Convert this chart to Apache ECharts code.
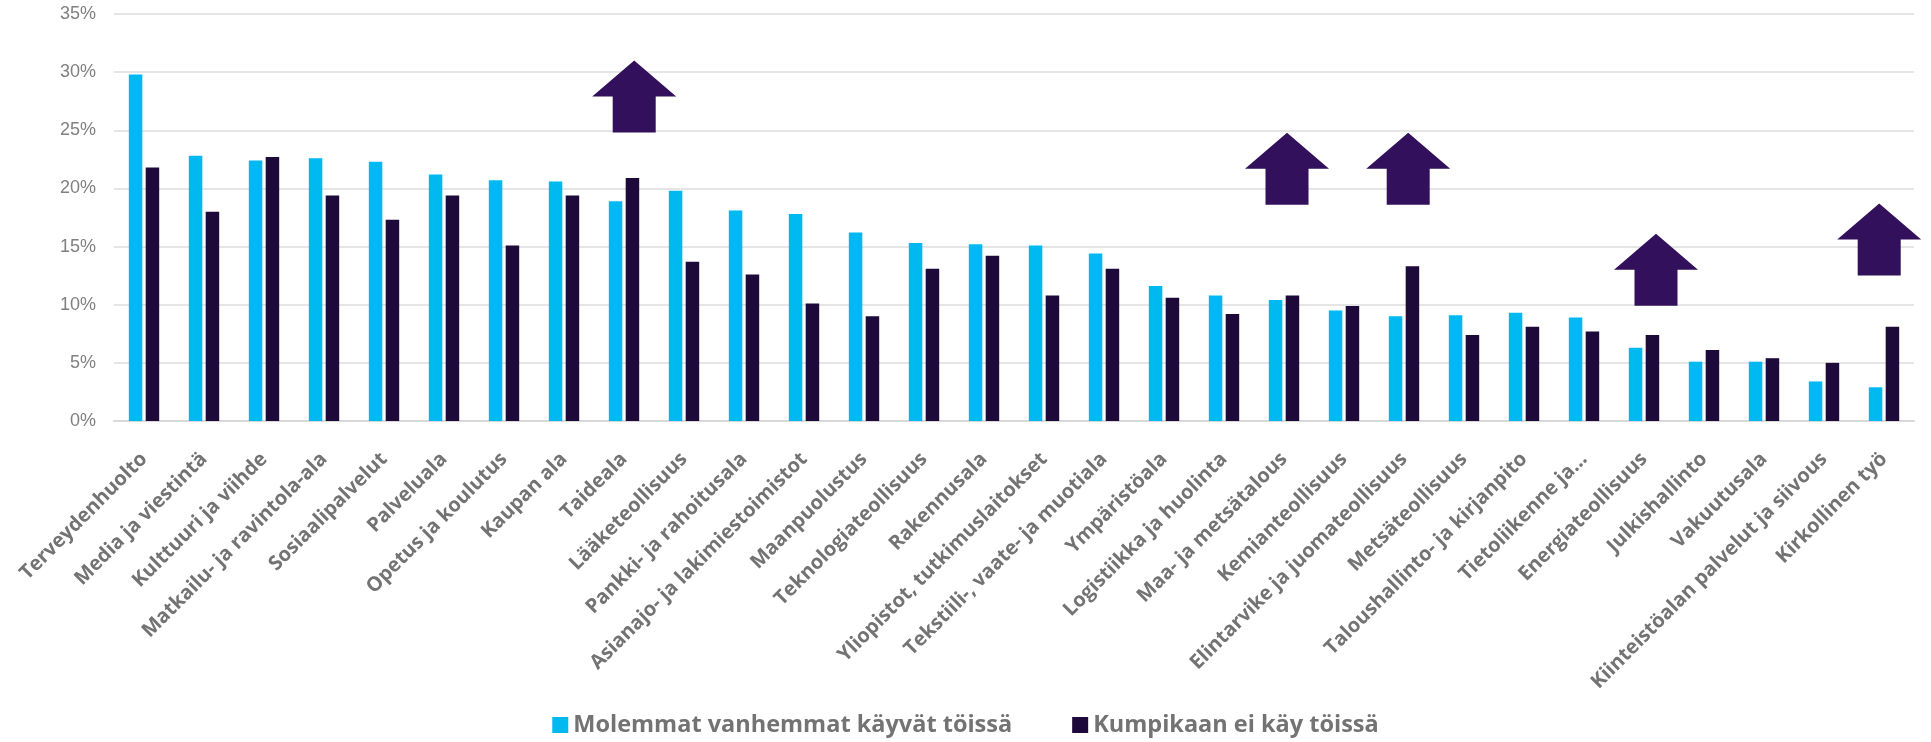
<!DOCTYPE html>
<html>
<head>
<meta charset="utf-8">
<script src="https://cdn.jsdelivr.net/npm/echarts@6/dist/echarts.min.js"></script>
<style>
    html, body { margin: 0; padding: 0; background: #fff; }
    #chart { width: 1931px; height: 742px; }
</style>
</head>
<body>
<div id="chart"></div>
<script>
    // toimialat (x-akseli)
    const categories = [
        "Terveydenhuolto", "Media ja viestintä", "Kulttuuri ja viihde", "Matkailu- ja ravintola-ala",
        "Sosiaalipalvelut", "Palveluala", "Opetus ja koulutus", "Kaupan ala", "Taideala",
        "Lääketeollisuus", "Pankki- ja rahoitusala", "Asianajo- ja lakimiestoimistot", "Maanpuolustus",
        "Teknologiateollisuus", "Rakennusala", "Yliopistot, tutkimuslaitokset", "Tekstiili-, vaate- ja muotiala",
        "Ympäristöala", "Logistiikka ja huolinta", "Maa- ja metsätalous", "Kemianteollisuus",
        "Elintarvike ja juomateollisuus", "Metsäteollisuus", "Taloushallinto- ja kirjanpito",
        "Tietoliikenne ja...", "Energiateollisuus", "Julkishallinto", "Vakuutusala",
        "Kiinteistöalan palvelut ja siivous", "Kirkollinen työ"
    ];

    const seriesNames = ["Molemmat vanhemmat käyvät töissä", "Kumpikaan ei käy töissä"];

    // prosentit
    const bothWorking = [
        29.8, 22.8, 22.4, 22.6, 22.3, 21.2, 20.7, 20.6, 18.9, 19.8,
        18.1, 17.8, 16.2, 15.3, 15.2, 15.1, 14.4, 11.6, 10.8, 10.4,
        9.5, 9.0, 9.1, 9.3, 8.9, 6.3, 5.1, 5.1, 3.4, 2.9
    ];
    const neitherWorking = [
        21.8, 18.0, 22.7, 19.4, 17.3, 19.4, 15.1, 19.4, 20.9, 13.7,
        12.6, 10.1, 9.0, 13.1, 14.2, 10.8, 13.1, 10.6, 9.2, 10.8,
        9.9, 13.3, 7.4, 8.1, 7.7, 7.4, 6.1, 5.4, 5.0, 8.1
    ];

    // nuolet: x = kategoria-akselin paikka (0..30), y = nuolen keskikohta (%)
    const arrowX = [8.67, 19.55, 21.57, 25.7, 29.42];
    const arrowY = [27.9, 21.7, 21.7, 13.0, 15.6];

    const yTicks = [0, 5, 10, 15, 20, 25, 30, 35];

    const colors = ["#00b9f1", "#1d0a3a"];
    const arrowColor = "#32105c";
    const arrowPath = "path://M42,0 L84,36 L63.5,36 L63.5,72 L20.5,72 L20.5,36 L0,36 Z";

    const chart = echarts.init(document.getElementById("chart"));

    const option = {
        animation: false,
        color: colors,
        grid: {
            left: 114,
            right: 17,
            top: 14,
            bottom: 321,
            containLabel: false
        },
        legend: {
            data: seriesNames,
            bottom: 0,
            left: "center",
            itemWidth: 16,
            itemHeight: 16,
            itemGap: 60,
            icon: "rect",
            textStyle: {
                fontFamily: "Open Sans",
                fontWeight: "bold",
                fontSize: 23.5,
                color: "#737373"
            }
        },
        xAxis: [
            {
                type: "category",
                data: categories,
                axisLine: { lineStyle: { color: "#d9d9d9", width: 2 } },
                axisTick: { show: false },
                axisLabel: {
                    interval: 0,
                    rotate: 45,
                    margin: 35,
                    fontFamily: "Open Sans",
                    fontWeight: "bold",
                    fontSize: 20,
                    color: "#737373"
                }
            },
            {
                type: "value",
                min: 0,
                max: categories.length,
                show: false
            }
        ],
        yAxis: {
            type: "value",
            min: 0,
            max: yTicks[yTicks.length - 1],
            interval: 5,
            axisLine: { show: false },
            axisTick: { show: false },
            splitLine: { lineStyle: { color: "#dcdcdc", width: 1.5 } },
            axisLabel: {
                margin: 18,
                fontFamily: "Liberation Sans",
                fontSize: 18,
                color: "#808080",
                formatter: "{value}%"
            }
        },
        series: [
            {
                name: seriesNames[0],
                type: "bar",
                barWidth: 13.5,
                barGap: "25%",
                data: bothWorking
            },
            {
                name: seriesNames[1],
                type: "bar",
                barWidth: 13.5,
                barGap: "25%",
                data: neitherWorking
            },
            {
                name: "nuolet",
                type: "scatter",
                xAxisIndex: 1,
                symbol: arrowPath,
                symbolSize: [84, 72],
                itemStyle: { color: arrowColor, opacity: 1 },
                silent: true,
                z: 5,
                data: arrowX.map((x, i) => [x, arrowY[i]])
            }
        ]
    };

    chart.setOption(option);
</script>
</body>
</html>
